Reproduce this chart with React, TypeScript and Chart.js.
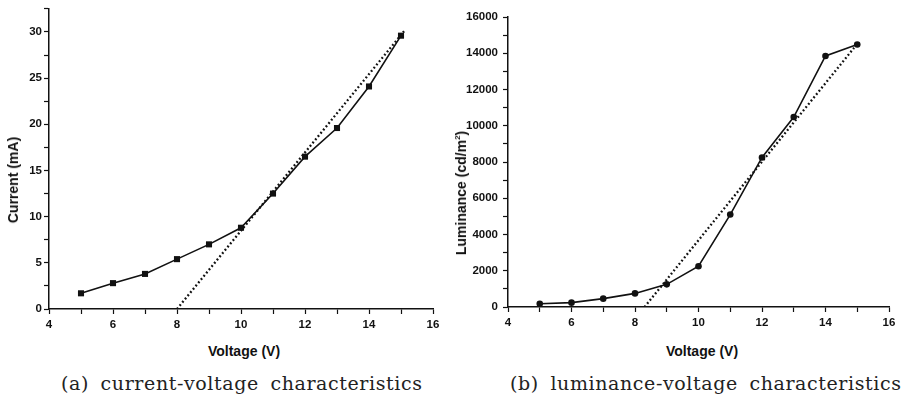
import React, { useEffect, useRef } from "react";
import { Chart, registerables } from "chart.js";

Chart.register(...registerables);

// ---- data ----
const voltage = [5, 6, 7, 8, 9, 10, 11, 12, 13, 14, 15];
const currentMA = [1.7, 2.8, 3.8, 5.4, 7.0, 8.8, 12.5, 16.5, 19.6, 24.1, 29.6];
const luminance = [180, 240, 460, 750, 1250, 2250, 5100, 8250, 10480, 13850, 14480];
const currentFitX = [8, 15.1];
const currentFitY = [0, 30.1];
const lumFitX = [8.3, 14.9];
const lumFitY = [0, 14300];
const xTickLabels = [4, 6, 8, 10, 12, 14, 16];
const currentTickLabels = [0, 5, 10, 15, 20, 25, 30];
const lumTickLabels = [0, 2000, 4000, 6000, 8000, 10000, 12000, 14000, 16000];

const INK = "#111";
const tickFont = { family: "'Liberation Sans', Arial, sans-serif", size: 11.5, weight: "bold" as const };

function pts(xs: number[], ys: number[]) {
  return xs.map((x, i) => ({ x, y: ys[i] }));
}

function isMajor(list: number[], v: number) {
  return list.some((m) => Math.abs(m - v) < 1e-6);
}

type Cfg = {
  ys: number[];
  fitX: number[];
  fitY: number[];
  yMax: number;
  yStep: number;
  yLabels: number[];
  pointStyle: "rect" | "circle";
  pointRadius: number;
  yWidth: number;
  xHeight: number;
  padTop: number;
  padRight: number;
  yPad: number;
};

function makeChart(canvas: HTMLCanvasElement, c: Cfg) {
  return new Chart(canvas, {
    type: "line",
    data: {
      datasets: [
        {
          data: pts(voltage, c.ys),
          borderColor: INK,
          backgroundColor: INK,
          borderWidth: 1.6,
          pointStyle: c.pointStyle,
          pointRadius: c.pointRadius,
          pointBorderWidth: 0,
          pointBackgroundColor: INK,
          tension: 0,
          order: 1,
        },
        {
          data: pts(c.fitX, c.fitY),
          borderColor: INK,
          borderWidth: 2.3,
          borderDash: [1.8, 2.4],
          pointRadius: 0,
          tension: 0,
          order: 2,
        },
      ],
    },
    options: {
      animation: false,
      responsive: false,
      devicePixelRatio: 1,
      layout: { padding: { top: c.padTop, right: c.padRight, left: 0, bottom: 0 } },
      plugins: { legend: { display: false }, tooltip: { enabled: false } },
      scales: {
        x: {
          type: "linear",
          min: 4,
          max: 16,
          border: { display: true, color: INK, width: 1.5 },
          grid: { display: true, drawOnChartArea: false, drawTicks: true, tickLength: 5, tickColor: INK, tickWidth: 1.2 },
          ticks: {
            stepSize: 1,
            autoSkip: false,
            maxRotation: 0,
            padding: 4,
            color: INK,
            font: tickFont,
            callback: (v: any) => (isMajor(xTickLabels, Number(v)) ? String(v) : ""),
          },
          afterFit: (s: any) => {
            s.height = c.xHeight;
          },
        },
        y: {
          type: "linear",
          min: 0,
          max: c.yMax,
          border: { display: true, color: INK, width: 1.5 },
          grid: { display: true, drawOnChartArea: false, drawTicks: true, tickLength: 5, tickColor: INK, tickWidth: 1.2 },
          ticks: {
            stepSize: c.yStep,
            autoSkip: false,
            padding: c.yPad,
            color: INK,
            font: tickFont,
            callback: (v: any) => (isMajor(c.yLabels, Number(v)) ? String(v) : ""),
          },
          afterFit: (s: any) => {
            s.width = c.yWidth;
          },
        },
      },
    },
  } as any);
}

const abs = (extra: React.CSSProperties): React.CSSProperties => ({
  position: "absolute",
  whiteSpace: "nowrap",
  lineHeight: 1,
  color: INK,
  ...extra,
});

const axisTitleFont: React.CSSProperties = {
  fontFamily: "'Liberation Sans', Arial, sans-serif",
  fontWeight: "bold",
  fontSize: 14,
};

const captionFont: React.CSSProperties = {
  fontFamily: "'DejaVu Serif', serif",
  fontSize: 19,
  letterSpacing: 0.6,
  wordSpacing: 5,
  color: "#222",
};

export default function App() {
  const leftRef = useRef<HTMLCanvasElement>(null);
  const rightRef = useRef<HTMLCanvasElement>(null);

  useEffect(() => {
    const a = makeChart(leftRef.current!, {
      ys: currentMA,
      fitX: currentFitX,
      fitY: currentFitY,
      yMax: 32.5,
      yStep: 2.5,
      yLabels: currentTickLabels,
      pointStyle: "rect",
      pointRadius: 4.3,
      yWidth: 49,
      xHeight: 31,
      padTop: 7,
      padRight: 17,
      yPad: 2,
    });
    const b = makeChart(rightRef.current!, {
      ys: luminance,
      fitX: lumFitX,
      fitY: lumFitY,
      yMax: 16000,
      yStep: 1000,
      yLabels: lumTickLabels,
      pointStyle: "circle",
      pointRadius: 3.3,
      yWidth: 58,
      xHeight: 33,
      padTop: 17,
      padRight: 20,
      yPad: 5,
    });
    return () => {
      a.destroy();
      b.destroy();
    };
  }, []);

  return (
    <div style={{ position: "absolute", left: 0, top: 0, width: 909, height: 403, background: "#fff", overflow: "hidden" }}>
      <canvas ref={leftRef} width={450} height={340} style={{ position: "absolute", left: 0, top: 0, width: 450, height: 340 }} />
      <canvas ref={rightRef} width={459} height={340} style={{ position: "absolute", left: 450, top: 0, width: 459, height: 340 }} />

      <div style={abs({ ...axisTitleFont, left: 13, top: 180, transform: "translate(-50%,-50%) rotate(-90deg)" })}>Current (mA)</div>
      <div style={abs({ ...axisTitleFont, left: 461, top: 193, transform: "translate(-50%,-50%) rotate(-90deg)" })}>
        Luminance (cd/m<sup style={{ fontSize: 8, verticalAlign: "6px", lineHeight: 0 }}>2</sup>)
      </div>
      <div style={abs({ ...axisTitleFont, left: 244, top: 351, transform: "translate(-50%,-50%)" })}>Voltage (V)</div>
      <div style={abs({ ...axisTitleFont, left: 702, top: 351, transform: "translate(-50%,-50%)" })}>Voltage (V)</div>

      <div style={abs({ ...captionFont, left: 61, top: 383, transform: "translateY(-50%)" })}>(a) current-voltage characteristics</div>
      <div style={abs({ ...captionFont, left: 510, top: 383, transform: "translateY(-50%)" })}>(b) luminance-voltage characteristics</div>
    </div>
  );
}
